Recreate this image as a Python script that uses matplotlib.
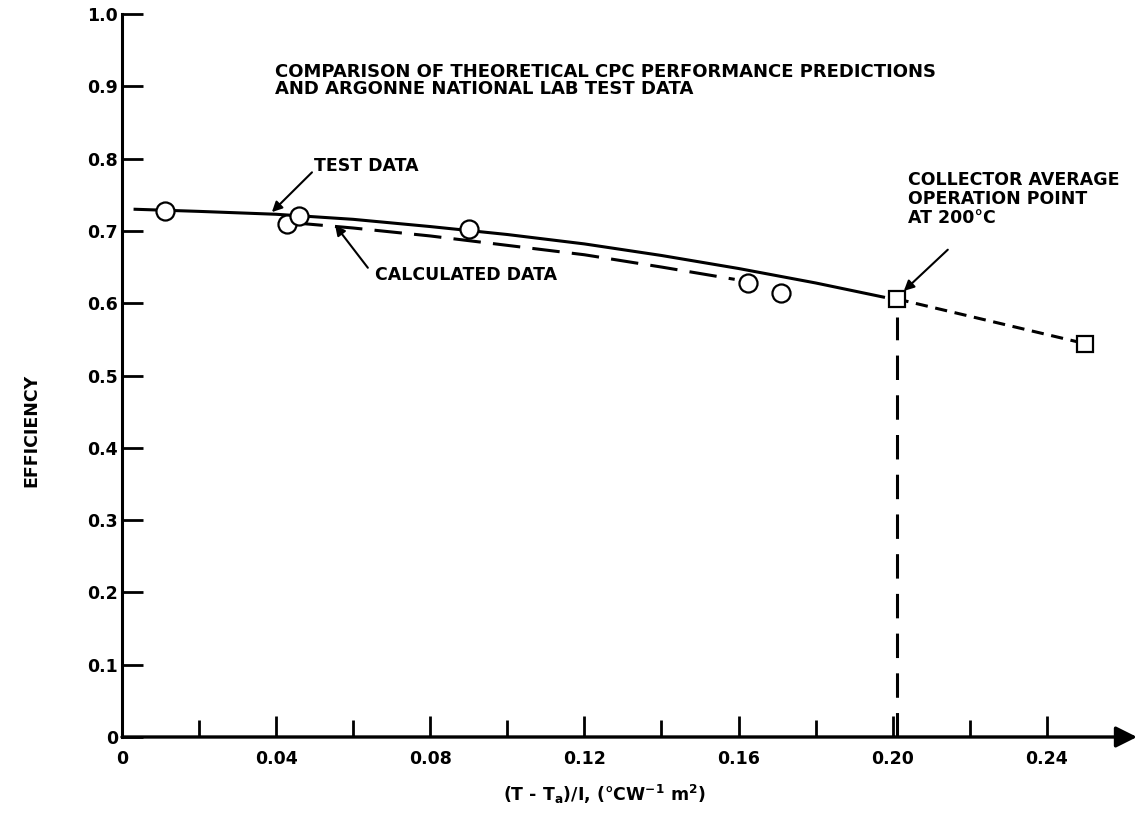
import matplotlib
matplotlib.use("Agg")
import matplotlib.pyplot as plt

# measured data (circles) and operating points (squares)
test_x = [0.0112, 0.0428, 0.0459, 0.090, 0.1624, 0.171]
test_y = [0.728, 0.710, 0.721, 0.703, 0.628, 0.614]

# smoothed "TEST DATA" curve
curve_x = [0.003, 0.02, 0.04, 0.06, 0.08, 0.10, 0.12, 0.14, 0.16, 0.18, 0.198]
curve_y = [0.730, 0.727, 0.723, 0.716, 0.706, 0.695, 0.682, 0.666, 0.648, 0.628, 0.608]

# "CALCULATED DATA" curve
calc_x = [0.045, 0.06, 0.08, 0.10, 0.12, 0.14, 0.159]
calc_y = [0.711, 0.704, 0.693, 0.680, 0.667, 0.650, 0.633]

op_x = [0.201, 0.250]
op_y = [0.606, 0.544]

xticks = [0, 0.04, 0.08, 0.12, 0.16, 0.20, 0.24]
xtick_labels = ["0", "0.04", "0.08", "0.12", "0.16", "0.20", "0.24"]
xminor = [0.02, 0.06, 0.10, 0.14, 0.18, 0.22]
yticks = [0, 0.1, 0.2, 0.3, 0.4, 0.5, 0.6, 0.7, 0.8, 0.9, 1.0]
ytick_labels = ["0", "0.1", "0.2", "0.3", "0.4", "0.5", "0.6", "0.7", "0.8", "0.9", "1.0"]

plt.rcParams["font.family"] = ["DejaVu Sans"]
plt.rcParams["font.weight"] = "bold"
FS = 12.5

fig = plt.figure(figsize=(11.37, 8.17), dpi=100)
ax = fig.add_axes([122 / 1137, 80 / 817, 1015 / 1137, 723 / 817])
ax.set_xlim(0, 0.2634)
ax.set_ylim(0, 1.0)

for s in ["top", "right", "bottom"]:
    ax.spines[s].set_visible(False)
ax.spines["left"].set_linewidth(2.2)

# x axis with arrow head
ax.annotate("", xy=(0.2634, 0), xytext=(0, 0), xycoords="data",
            arrowprops=dict(arrowstyle="-|>", lw=2.4, color="k", mutation_scale=32,
                            shrinkA=0, shrinkB=0), annotation_clip=False)

ax.set_xticks(xticks)
ax.set_xticklabels(xtick_labels, fontsize=FS)
ax.set_xticks(xminor, minor=True)
ax.set_yticks(yticks)
ax.set_yticklabels(ytick_labels, fontsize=FS)
ax.tick_params(axis="both", which="major", direction="in", length=15, width=2)
ax.tick_params(axis="x", which="major", pad=9)
ax.tick_params(axis="x", which="minor", direction="in", length=12, width=2)
ax.tick_params(axis="y", pad=3)

# curves
ax.plot(curve_x, curve_y, color="k", lw=2.2, solid_capstyle="butt")
ax.plot(calc_x, calc_y, color="k", lw=2.2, dashes=(9, 4))
ax.plot(op_x, op_y, color="k", lw=2.2, dashes=(4, 2.5))
ax.plot([op_x[0], op_x[0]], [0, op_y[0] - 0.025], color="k", lw=2.2, dashes=(8, 5))

ax.plot(test_x, test_y, "o", ms=13, mfc="white", mec="k", mew=1.6, zorder=5)
ax.plot(op_x, op_y, "s", ms=12, mfc="white", mec="k", mew=1.6, zorder=5)

arrow = dict(arrowstyle="-|>", lw=1.5, color="k", mutation_scale=15, shrinkA=0, shrinkB=0)
txt = dict(fontsize=FS, fontweight="bold")

ax.text(0.0397, 0.932,
        "COMPARISON OF THEORETICAL CPC PERFORMANCE PREDICTIONS\nAND ARGONNE NATIONAL LAB TEST DATA",
        va="top", ha="left", linespacing=0.95, fontsize=13, fontweight="bold")

ax.text(0.0498, 0.790, "TEST DATA", va="center", ha="left", **txt)
ax.annotate("", xy=(0.0389, 0.726), xytext=(0.0493, 0.781), arrowprops=arrow)

ax.text(0.0656, 0.639, "CALCULATED DATA", va="center", ha="left", **txt)
ax.annotate("", xy=(0.0553, 0.708), xytext=(0.0638, 0.649), arrowprops=arrow)

ax.text(0.204, 0.783, "COLLECTOR AVERAGE\nOPERATION POINT\nAT 200°C",
        va="top", ha="left", linespacing=1.08, **txt)
ax.annotate("", xy=(0.2029, 0.617), xytext=(0.2143, 0.674), arrowprops=arrow)

ax.set_ylabel("EFFICIENCY", fontsize=FS, fontweight="bold")
ax.yaxis.set_label_coords(-0.080, 0.4246)
ax.set_xlabel("(T - T$_\\mathbf{a}$)/I, (°CW$^\\mathbf{-1}$ m$^\\mathbf{2}$)", fontsize=FS,
              fontweight="bold")
ax.xaxis.set_label_coords(0.475, -0.064)

fig.savefig("out.png", dpi=100)
